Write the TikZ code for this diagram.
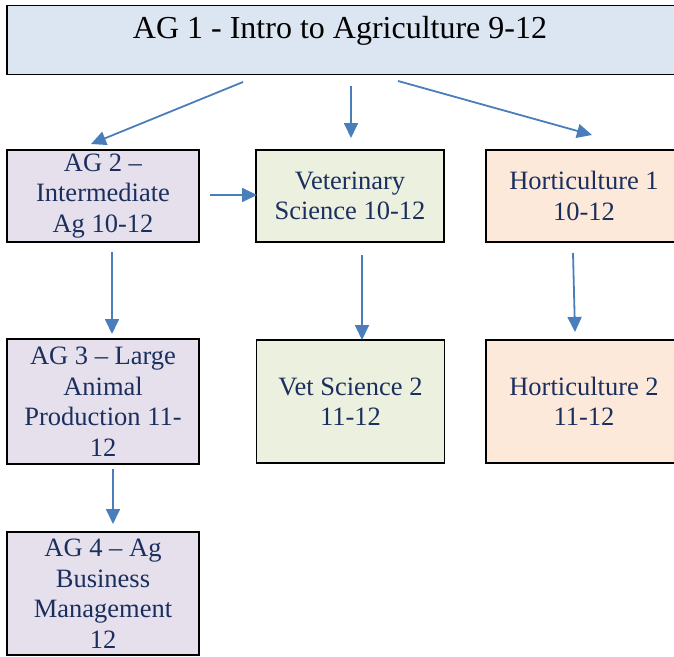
\documentclass[tikz,border=0pt]{standalone}
\usepackage{fontspec}
\setmainfont{Liberation Serif}
\usetikzlibrary{arrows.meta}

\definecolor{titlefill}{HTML}{DCE6F2}
\definecolor{agfill}{HTML}{E5E0EC}
\definecolor{vetfill}{HTML}{EBF1DE}
\definecolor{hortfill}{HTML}{FDE9D9}
\definecolor{navytext}{HTML}{1B2F5E}
\definecolor{arrowblue}{HTML}{4A7EBB}

\tikzset{
  course/.style={draw=black, line width=1.5pt, rectangle, align=center, text=navytext,
    font=\fontsize{26.5}{30.5}\selectfont, inner sep=0pt},
  flow/.style={draw=arrowblue, line width=1.8pt, -{Triangle[length=15pt,width=14pt]}}
}

\begin{document}
\begin{tikzpicture}[x=1pt, y=-1pt]
\useasboundingbox (0,0) rectangle (674,656);

% Title box (blue), cut off at the right edge
\node[course, fill=titlefill, minimum width=675pt, minimum height=69pt] (ag1) at (344.5,40) {};
\node[anchor=base, text=black, font=\fontsize{32}{38}\selectfont] (ag1title) at (340,38) {AG 1 - Intro to Agriculture 9-12};

% Second row
\node[course, fill=agfill, minimum width=192pt, minimum height=92pt] (ag2) at (103,196) {AG 2 --\\Intermediate\\Ag 10-12};
\node[course, fill=vetfill, minimum width=188pt, minimum height=92pt] (vet1) at (350,196) {Veterinary\\Science 10-12};
\node[course, fill=hortfill, minimum width=196pt, minimum height=92pt] (hort1) at (584,196) {Horticulture 1\\10-12};

% Third row
\node[course, fill=agfill, minimum width=192pt, minimum height=125pt] (ag3) at (103,401.5) {AG 3 -- Large\\Animal\\Production 11-\\12};
\node[course, fill=vetfill, minimum width=188pt, minimum height=123pt] (vet2) at (350.5,401.5) {Vet Science 2\\11-12};
\node[course, fill=hortfill, minimum width=196pt, minimum height=123pt] (hort2) at (584,401.5) {Horticulture 2\\11-12};

% Fourth row
\node[course, fill=agfill, minimum width=192pt, minimum height=123pt] (ag4) at (103,593.5) {AG 4 -- Ag\\Business\\Management\\12};

% Arrow ends (gaps between boxes)
\coordinate (a1s) at (243,82);   \coordinate (a1e) at (91,144);
\coordinate (a2s) at (351,86);   \coordinate (a2e) at (351,138);
\coordinate (a3s) at (398,81);   \coordinate (a3e) at (592,135);
\coordinate (a4s) at (210,195);  \coordinate (a4e) at (257,195);
\coordinate (a5s) at (112,252);  \coordinate (a5e) at (112,334);
\coordinate (a6s) at (362,255);  \coordinate (a6e) at (362,340);
\coordinate (a7s) at (573,253);  \coordinate (a7e) at (575,332);
\coordinate (a8s) at (113,469);  \coordinate (a8e) at (113,524);

% Arrows
\foreach \n in {1,...,8} {
    \draw[flow] (a\n s) -- (a\n e);
}

\end{tikzpicture}
\end{document}
